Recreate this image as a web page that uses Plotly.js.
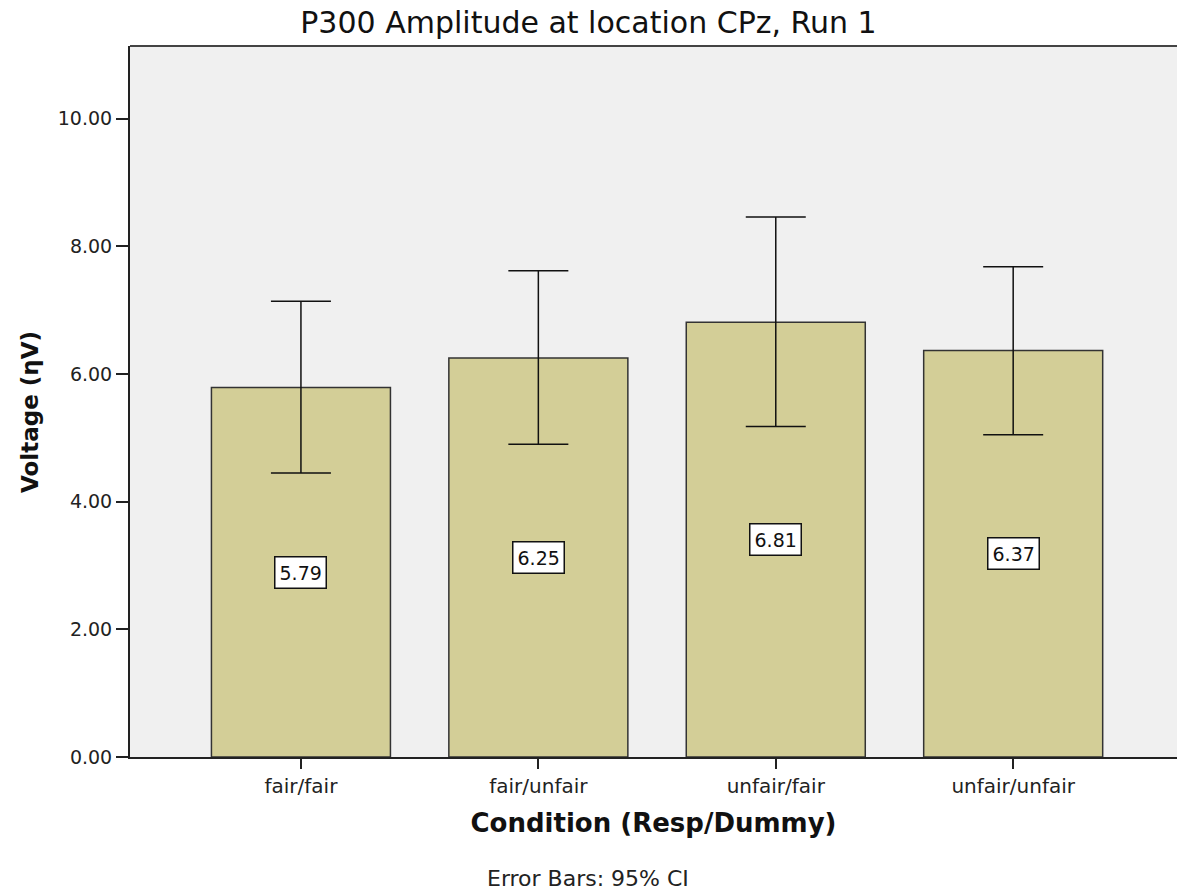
<!DOCTYPE html>
<html>
<head>
<meta charset="utf-8">
<script src="https://cdn.plot.ly/plotly-3.0.1.min.js"></script>
<style>html,body{margin:0;padding:0;background:#fff;}#chart{width:1177px;height:892px;}</style>
</head>
<body>
<div id="chart"></div>
<script>
const categories = ["fair/fair", "fair/unfair", "unfair/fair", "unfair/unfair"];
const means = [5.79, 6.25, 6.81, 6.37];
const ciUpper = [7.14, 7.62, 8.46, 7.68];
const ciLower = [4.45, 4.90, 5.18, 5.05];
const yTickVals = [0, 2, 4, 6, 8, 10];
const yTickText = ["0.00", "2.00", "4.00", "6.00", "8.00", "10.00"];

const xIdx = categories.map((c, i) => i);
const errPlus = means.map((m, i) => ciUpper[i] - m);
const errMinus = means.map((m, i) => m - ciLower[i]);

const trace = {
  type: "bar",
  x: xIdx,
  y: means,
  width: 0.754,
  marker: {color: "#d3ce97", line: {color: "#333333", width: 1.5}},
  error_y: {type: "data", array: errPlus, arrayminus: errMinus, visible: true,
            color: "#111111", thickness: 1.5, width: 30},
  hoverinfo: "skip"
};

const annotations = means.map((m, i) => ({
  x: i, y: m / 2, xref: "x", yref: "y",
  text: m.toFixed(2), showarrow: false,
  font: {family: "DejaVu Sans", size: 19, color: "#111"},
  bgcolor: "#ffffff", bordercolor: "#111111", borderwidth: 1.5, borderpad: 4
}));
annotations.push({
  x: 588, y: 878, xref: "paper", yref: "paper", xanchor: "center", yanchor: "middle",
  text: "Error Bars: 95% CI", showarrow: false,
  font: {family: "DejaVu Sans", size: 22, color: "#222"}
});
annotations.push({
  x: 30, y: 412, xref: "paper", yref: "paper", xanchor: "center", yanchor: "middle",
  text: "<b>Voltage (ηV)</b>", showarrow: false, textangle: -90,
  font: {family: "DejaVu Sans", size: 23, color: "#111"}
});
// convert pixel positions for the two paper annotations
const W = 1177, H = 892, L = 130, R = 0, T = 46, B = 135;
const pw = W - L - R, ph = H - T - B;
annotations.slice(-2).forEach(a => {
  a.x = (a.x - L) / pw;
  a.y = (H - B - a.y) / ph;
});

const layout = {
  width: W, height: H,
  margin: {l: L, r: R, t: T, b: B},
  paper_bgcolor: "#ffffff",
  plot_bgcolor: "#f0f0f0",
  showlegend: false,
  title: {text: "P300 Amplitude at location CPz, Run 1", x: 0.5, xref: "container", xanchor: "center",
          y: 1 - 22 / H, yref: "container", yanchor: "middle",
          font: {family: "DejaVu Sans", size: 30, color: "#111"}},
  xaxis: {
    range: [-0.72, 3.69], tickmode: "array", tickvals: xIdx, ticktext: categories,
    ticks: "outside", ticklen: 10, tickwidth: 2, tickcolor: "#222",
    showline: true, linecolor: "#222", linewidth: 2, mirror: false,
    showgrid: false, zeroline: false,
    tickfont: {family: "DejaVu Sans", size: 20, color: "#222"},
    title: {text: "<b>Condition (Resp/Dummy)</b>", standoff: 17, font: {family: "DejaVu Sans", size: 26, color: "#111"}}
  },
  yaxis: {
    range: [0, 11.14], tickmode: "array", tickvals: yTickVals, ticktext: yTickText,
    ticks: "outside", ticklen: 12, tickwidth: 2, tickcolor: "#222",
    showline: true, linecolor: "#222", linewidth: 2,
    showgrid: false, zeroline: false,
    tickfont: {family: "DejaVu Sans", size: 19, color: "#222"}
  },
  shapes: [{type: "line", xref: "paper", yref: "paper", x0: 0, x1: 1, y0: 1, y1: 1, line: {color: "#444", width: 2}}],
  annotations: annotations
};

Plotly.newPlot("chart", [trace], layout, {displayModeBar: false, staticPlot: true});
</script>
</body>
</html>
